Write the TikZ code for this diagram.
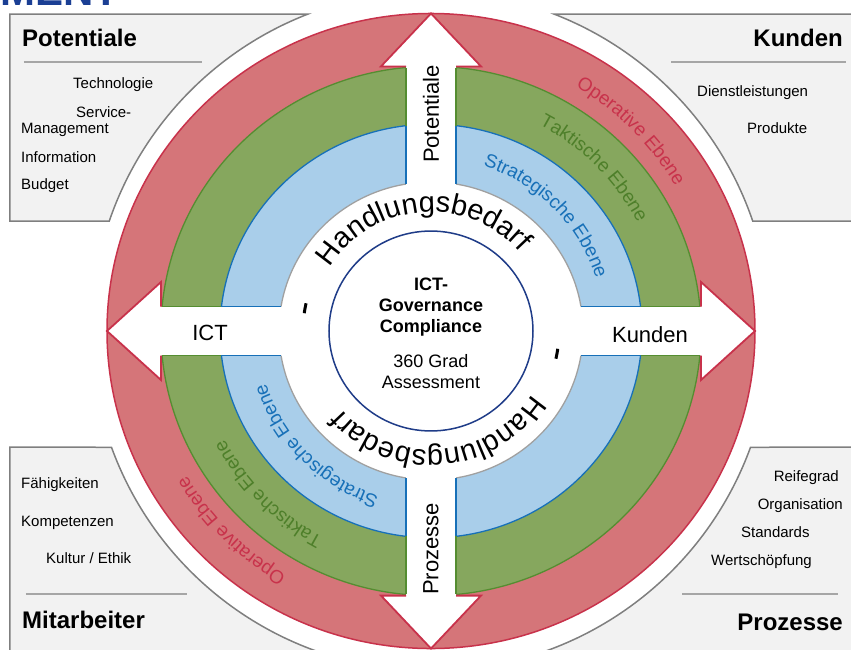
\documentclass[tikz,border=0pt]{standalone}
\usepackage{fontspec}
\setmainfont{Liberation Sans}
\usetikzlibrary{decorations.text}

\definecolor{opfill}{HTML}{D57579}
\definecolor{opline}{HTML}{C8324B}
\definecolor{tkfill}{HTML}{86A75E}
\definecolor{tkline}{HTML}{558D31}
\definecolor{tktext}{HTML}{4E7F2A}
\definecolor{stfill}{HTML}{A9CEEA}
\definecolor{stline}{HTML}{1770B8}
\definecolor{boxfill}{HTML}{F2F2F2}
\definecolor{boxline}{HTML}{7F7F7F}
\definecolor{rulegray}{HTML}{A6A6A6}
\definecolor{ringgray}{HTML}{A0A0A0}
\definecolor{navy}{HTML}{1F3C88}
\definecolor{headblue}{HTML}{1B3F94}

\newcommand{\ringfont}{\fontsize{19}{19}\selectfont}
\newcommand{\bedarffont}{\fontsize{29}{29}\selectfont}

\tikzset{
  panel/.style={fill=boxfill, draw=boxline, line width=1.5pt},
  divider/.style={draw=rulegray, line width=1.8pt},
  paneltitle/.style={font=\fontsize{24}{26}\selectfont\bfseries, inner sep=0pt},
  item/.style={font=\fontsize{15}{17}\selectfont, inner sep=0pt},
  arrowlabel/.style={font=\fontsize{22}{24}\selectfont, inner sep=0pt},
  coretext/.style={font=\fontsize{18}{21}\selectfont, align=center, inner sep=0pt},
}

\begin{document}
\begin{tikzpicture}[x=1pt, y=1pt]

	% ---- frame: origin sits at the centre of the rings ----
	\useasboundingbox (-431,-318) rectangle (420,331);
	
	% ---- (A) heading, mostly cut off ----
	\node[anchor=base west, inner sep=0pt, text=headblue,
	font=\fontsize{42}{42}\selectfont\bfseries] (heading) at (-431,326) {MENT};
	
	% ---- (B) the four grey panels ----
	\draw[panel] (-421,317) -- (111.2:340) arc[start angle=111.2, end angle=161.13, radius=340] -- (-421,110) -- cycle;
	\draw[panel] (440,317) -- (68.8:340) arc[start angle=68.8, end angle=18.87, radius=340] -- (440,110) -- cycle;
	\draw[panel] (-421,-116) -- (200:340) arc[start angle=200, end angle=256, radius=340] -- (-421,-330) -- cycle;
	\draw[panel] (440,-116) -- (-20:340) arc[start angle=-20, end angle=-76, radius=340] -- (440,-330) -- cycle;
	
	\draw[divider] (-407,269) -- (-229,269);
	\draw[divider] (240,269) -- (415,269);
	\draw[divider] (-405,-263) -- (-244,-263);
	\draw[divider] (251,-263) -- (407,-263);
	
	% panel titles
	\node[paneltitle, anchor=base west] (potTitle) at (-409,284.5) {Potentiale};
	\node[paneltitle, anchor=base east] (kunTitle) at (412,284.5) {Kunden};
	\node[paneltitle, anchor=base west] (mitTitle) at (-409,-297.6) {Mitarbeiter};
	\node[paneltitle, anchor=base east] (proTitle) at (412,-299.6) {Prozesse};
	
	% panel items
	\node[item, anchor=base west] (technologie) at (-358,243) {Technologie};
	\node[item, anchor=base west] (service) at (-355,214) {Service-};
	\node[item, anchor=base west] (management) at (-410,198) {Management};
	\node[item, anchor=base west] (information) at (-410,169) {Information};
	\node[item, anchor=base west] (budget) at (-410,142) {Budget};
	
	\node[item, anchor=base west] (dienst) at (266,235) {Dienstleistungen};
	\node[item, anchor=base west] (produkte) at (316,198) {Produkte};
	
	\node[item, anchor=base west] (faehig) at (-410,-157) {Fähigkeiten};
	\node[item, anchor=base west] (kompetenz) at (-410,-195) {Kompetenzen};
	\node[item, anchor=base west] (kultur) at (-385,-232) {Kultur / Ethik};
	
	\node[item, anchor=base east] (reife) at (408,-150) {Reifegrad};
	\node[item, anchor=base east] (organisation) at (412,-178) {Organisation};
	\node[item, anchor=base west] (standards) at (310,-206) {Standards};
	\node[item, anchor=base west] (wert) at (280,-234) {Wertschöpfung};
	
	% ---- (C) rings and the white cross ----
	\begin{scope}[yscale=0.98]
		\fill[opfill] (0,0) circle (324);
		\fill[tkfill] (0,0) circle (270);
		\fill[stfill] (0,0) circle (211);
		\fill[white] (0,0) circle (152);
		\draw[opline, line width=1.5pt] (0,0) circle (324);
		\draw[tkline, line width=1.3pt] (0,0) circle (270);
		\draw[stline, line width=1.3pt] (0,0) circle (211);
		\draw[ringgray, line width=1.3pt] (0,0) circle (152);
		
		% arrows: shaft and head, one per direction
		\foreach \a in {0,90,180,270}{
			\fill[white, rotate=\a] (0,-25) -- (270,-25) -- (270,-50) -- (324,0)
			-- (270,50) -- (270,25) -- (0,25) -- cycle;
		}
		\foreach \a in {0,90,180,270}{
			\begin{scope}[rotate=\a]
				\draw[stline, line width=1.5pt] (150,25) -- (209.5,25);
				\draw[stline, line width=1.5pt] (150,-25) -- (209.5,-25);
				\draw[tkline, line width=1.5pt] (209.5,25) -- (268.8,25);
				\draw[tkline, line width=1.5pt] (209.5,-25) -- (268.8,-25);
				\draw[opline, line width=1.8pt, line join=miter]
				(270,25) -- (270,50) -- (324,0) -- (270,-50) -- (270,-25);
			\end{scope}
		}
		
		% inner circle
		\draw[navy, line width=1.5pt] (0,0) circle (102);
	\end{scope}
	
	% ---- (D) texts along the rings ----
	\path[decorate, decoration={text along path, text align=center,
		text={|\ringfont\color{opline}|Operative Ebene}}]
	(90:284) arc[start angle=90, end angle=0, radius=284];
	\path[decorate, decoration={text along path, text align=center,
		text={|\ringfont\color{tktext}|Taktische Ebene}}]
	(90:233) arc[start angle=90, end angle=0, radius=233];
	\path[decorate, decoration={text along path, text align=center,
		text={|\ringfont\color{stline}|Strategische Ebene}}]
	(90:173) arc[start angle=90, end angle=0, radius=173];
	
	\path[decorate, decoration={text along path, text align=center,
		text={|\ringfont\color{opline}|Operative Ebene}}]
	(270:284) arc[start angle=270, end angle=180, radius=284];
	\path[decorate, decoration={text along path, text align=center,
		text={|\ringfont\color{tktext}|Taktische Ebene}}]
	(270:233) arc[start angle=270, end angle=180, radius=233];
	\path[decorate, decoration={text along path, text align=center,
		text={|\ringfont\color{stline}|Strategische Ebene}}]
	(270:173) arc[start angle=270, end angle=180, radius=173];
	
	% Handlungsbedarf, top and (turned) bottom
	\path[decorate, decoration={text along path, text align=center,
		text={|\bedarffont|Handlungsbedarf}}]
	(184.6:119) arc[start angle=184.6, end angle=4.6, radius=119];
	\path[decorate, decoration={text along path, text align=center,
		text={|\bedarffont|Handlungsbedarf}}]
	(4.6:119) arc[start angle=4.6, end angle=-175.4, radius=119];
	
	% the two small ticks
	\draw[black, line width=3pt] (167.5:128) arc[start angle=167.5, end angle=172, radius=128];
	\draw[black, line width=3pt] (-12.5:128) arc[start angle=-12.5, end angle=-8, radius=128];
	
	% ---- (E) arrow labels and centre ----
	\node[arrowlabel, rotate=90] (potLabel) at (0,217) {Potentiale};
	\node[arrowlabel, rotate=90] (proLabel) at (0,-218) {Prozesse};
	\node[arrowlabel] (ictLabel) at (-221,-2) {ICT};
	\node[arrowlabel] (kunLabel) at (219,-4) {Kunden};
	
	\node[coretext, font=\fontsize{18}{21}\selectfont\bfseries] (governance) at (0,24)
	{ICT-\\Governance\\Compliance};
	\node[coretext] (assessment) at (0,-41) {360 Grad\\Assessment};
	
\end{tikzpicture}
\end{document}
